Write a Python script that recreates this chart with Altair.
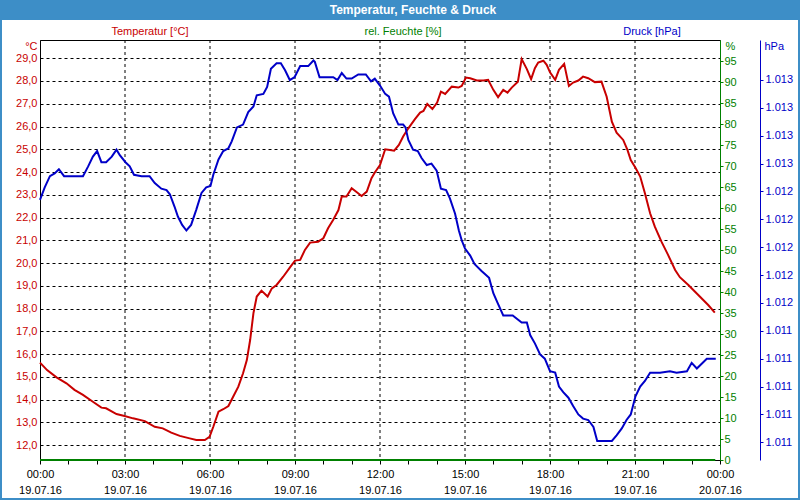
import altair as alt
import pandas as pd

temp_time = ["00:00","00:15","00:35","00:56","01:13","01:31","01:52","02:10","02:20","02:42",
             "02:59","03:17","03:42","04:03","04:20","04:38","04:56","05:17","05:31","05:49",
             "05:59","06:07","06:18","06:28","06:39","06:49","07:00","07:10","07:18","07:25",
             "07:32","07:39","07:49","08:02","08:11","08:21","08:35","08:49","09:00","09:11",
             "09:21","09:32","09:49","10:00","10:10","10:21","10:32","10:39","10:49","11:00",
             "11:11","11:21","11:32","11:42","11:49","12:00","12:11","12:21","12:30","12:40",
             "12:49","13:00","13:14","13:25","13:32","13:40","13:51","14:01","14:09","14:18",
             "14:32","14:46","14:53","15:02","15:11","15:25","15:39","15:49","16:00","16:10",
             "16:21","16:30","16:39","16:52","17:00","17:11","17:20","17:28","17:35","17:46",
             "17:53","18:00","18:11","18:19","18:30","18:40","18:49","19:00","19:10","19:21",
             "19:35","19:49","20:00","20:11","20:21","20:35","20:44","20:51","21:01","21:11",
             "21:21","21:32","21:42","21:56","22:10","22:25","22:35","22:53","23:14","23:35","23:49"]
temp_vals = [15.63,15.30,14.98,14.72,14.43,14.21,13.91,13.65,13.62,13.37,
             13.28,13.18,13.06,12.81,12.74,12.55,12.41,12.30,12.23,12.23,
             12.37,12.81,13.47,13.58,13.72,14.13,14.57,15.16,15.74,16.62,
             17.80,18.53,18.79,18.53,18.89,19.04,19.40,19.80,20.11,20.14,
             20.58,20.90,20.94,21.09,21.53,21.90,22.33,22.92,22.92,23.29,
             23.11,22.95,23.14,23.73,23.98,24.31,25.00,24.97,24.94,25.19,
             25.56,25.92,26.32,26.61,26.68,26.99,26.77,27.05,27.53,27.43,
             27.75,27.71,27.78,28.15,28.12,28.02,28.02,28.05,27.61,27.29,
             27.61,27.49,27.71,27.97,28.96,28.52,28.08,28.56,28.81,28.89,
             28.71,28.38,28.05,28.49,28.75,27.78,27.93,28.02,28.19,28.12,
             27.95,27.97,27.31,26.21,25.73,25.41,24.97,24.53,24.19,23.80,
             23.07,22.19,21.60,20.94,20.36,19.70,19.38,19.04,18.60,18.16,17.82]

pres_time = ["00:00","00:10","00:21","00:31","00:40","00:51","01:10","01:31","01:42","01:52",
             "02:01","02:10","02:20","02:32","02:42","02:49","03:01","03:10","03:19","03:35",
             "03:52","04:03","04:17","04:28","04:35","04:45","04:52","05:01","05:10","05:20",
             "05:31","05:42","05:52","06:01","06:07","06:18","06:28","06:39","06:46","06:57",
             "07:10","07:21","07:32","07:39","07:53","08:01","08:09","08:21","08:30","08:39",
             "08:49","08:59","09:11","09:28","09:39","09:42","09:52","10:04","10:21","10:30",
             "10:39","10:49","11:00","11:14","11:30","11:41","11:49","12:00","12:11","12:19",
             "12:28","12:39","12:49","12:54","13:00","13:10","13:20","13:28","13:39","13:49",
             "14:00","14:09","14:20","14:28","14:39","14:47","14:53","15:00","15:11","15:20",
             "15:35","15:51","16:00","16:09","16:21","16:41","17:00","17:11","17:18","17:28",
             "17:39","17:49","18:00","18:11","18:19","18:28","18:39","18:49","19:00","19:10",
             "19:21","19:32","19:40","20:11","20:21","20:32","20:42","20:51","21:01","21:11",
             "21:21","21:32","21:53","22:14","22:28","22:50","23:00","23:11","23:32","23:51"]
pres_vals = [1012.34,1012.43,1012.51,1012.53,1012.56,1012.51,1012.51,1012.51,1012.58,1012.65,
             1012.69,1012.61,1012.61,1012.65,1012.70,1012.66,1012.61,1012.58,1012.52,1012.51,
             1012.51,1012.46,1012.42,1012.41,1012.38,1012.29,1012.22,1012.16,1012.12,1012.16,
             1012.27,1012.39,1012.43,1012.44,1012.52,1012.63,1012.69,1012.71,1012.76,1012.86,
             1012.88,1012.97,1013.01,1013.09,1013.10,1013.15,1013.28,1013.32,1013.32,1013.27,
             1013.20,1013.22,1013.30,1013.30,1013.34,1013.33,1013.22,1013.22,1013.22,1013.20,
             1013.25,1013.21,1013.21,1013.24,1013.24,1013.19,1013.21,1013.16,1013.10,1013.08,
             1012.96,1012.88,1012.88,1012.86,1012.77,1012.70,1012.69,1012.64,1012.59,1012.60,
             1012.55,1012.42,1012.41,1012.35,1012.24,1012.12,1012.05,1011.99,1011.94,1011.88,
             1011.83,1011.78,1011.67,1011.60,1011.51,1011.51,1011.46,1011.46,1011.37,1011.31,
             1011.23,1011.20,1011.11,1011.10,1011.00,1010.96,1010.92,1010.86,1010.80,1010.77,
             1010.76,1010.71,1010.61,1010.61,1010.65,1010.70,1010.76,1010.80,1010.93,1011.00,
             1011.04,1011.10,1011.10,1011.11,1011.10,1011.11,1011.17,1011.13,1011.20,1011.20]

hum_time = ["00:00", "23:50"]
hum_vals = [0, 0]

grid_time = ["03:00", "06:00", "09:00", "12:00", "15:00", "18:00", "21:00"]
hour_ticks = [0, 1, 2, 3, 4, 5, 6, 7, 8, 9, 10, 11, 12, 13, 14, 15, 16, 17, 18, 19, 20, 21, 22, 23, 24]
dates = ["19.07.16", "20.07.16"]

temp_ticks = [12, 13, 14, 15, 16, 17, 18, 19, 20, 21, 22, 23, 24, 25, 26, 27, 28, 29]
hum_ticks = [0, 5, 10, 15, 20, 25, 30, 35, 40, 45, 50, 55, 60, 65, 70, 75, 80, 85, 90, 95]
pres_ticks = [1010.6, 1010.8, 1011.0, 1011.2, 1011.4, 1011.6, 1011.8, 1012.0,
              1012.2, 1012.4, 1012.6, 1012.8, 1013.0, 1013.2]

title_text = "Temperatur, Feuchte & Druck"
header_texts = ["Temperatur [°C]", "rel. Feuchte [%]", "Druck [hPa]"]

RED = "#c80000"
GREEN = "#008000"
BLUE = "#0000c8"
BAR = "#3d8ec7"
FONT = "Liberation Sans"


def to_hours(hhmm):
    h, m = hhmm.split(":")
    return int(h) + int(m) / 60.0


def frame(times, vals):
    return pd.DataFrame({"h": [to_hours(t) for t in times], "v": vals})


x_label_expr = (
    "datum.value % 3 == 0 ? ["
    "(datum.value % 24 < 10 ? '0' : '') + (datum.value % 24) + ':00', "
    "datum.value < 24 ? '" + dates[0] + "' : '" + dates[1] + "'] : ''"
)

x_main = alt.X("h:Q", scale=alt.Scale(domain=[0, 24], nice=False, zero=False), axis=alt.Axis(
    orient="bottom", values=hour_ticks,
    grid=False, ticks=True, tickSize=4, tickColor="black",
    domain=True, domainColor="black", domainWidth=1,
    labelExpr=x_label_expr,
    labelFont=FONT, labelFontSize=11, labelColor="black", labelPadding=4,
    labelFlush=False, labelOverlap=False, title=None))

y_temp = alt.Y("v:Q", scale=alt.Scale(domain=[11.35, 29.8], nice=False, zero=False),
               axis=alt.Axis(orient="left", values=temp_ticks, grid=True, gridDash=[3, 3],
                             gridColor="black", gridOpacity=1, gridWidth=1, ticks=False,
                             domainColor="black", labelColor=RED,
                             labelExpr="replace(format(datum.value, '.1f'), '.', ',')",
                             labelPadding=3, labelFont=FONT, labelFontSize=11,
                             title="°C", titleAngle=0, titleColor=RED, titleFontWeight="normal",
                             titleFont=FONT, titleFontSize=11, titleX=-3, titleY=6,
                             titleAlign="right", titleBaseline="middle"))

y_hum = alt.Y("v:Q", scale=alt.Scale(domain=[0, 100], nice=False),
              axis=alt.Axis(orient="right", values=hum_ticks, grid=False,
                            domainColor=GREEN, tickColor=GREEN, tickSize=3,
                            labelColor=GREEN, labelPadding=1, labelFont=FONT, labelFontSize=11,
                            title="%", titleAngle=0, titleColor=GREEN, titleFontWeight="normal",
                            titleFont=FONT, titleFontSize=11, titleX=5, titleY=6,
                            titleAlign="left", titleBaseline="middle"))

y_pres = alt.Y("v:Q", scale=alt.Scale(domain=[1010.473, 1013.487], nice=False, zero=False),
               axis=alt.Axis(orient="right", offset=40, values=pres_ticks, grid=False,
                             domainColor=BLUE, tickColor=BLUE, tickSize=3,
                             labelColor=BLUE, labelPadding=2, labelFont=FONT, labelFontSize=11,
                             labelExpr="replace(format(round(datum.value), ','), ',', '.')",
                             title="hPa", titleAngle=0, titleColor=BLUE, titleFontWeight="normal",
                             titleFont=FONT, titleFontSize=11, titleX=4, titleY=6,
                             titleAlign="left", titleBaseline="middle"))

vgrid = alt.Chart(frame(grid_time, [0] * len(grid_time))).mark_rule(
    color="black", strokeDash=[3, 3], strokeWidth=1).encode(x=x_main)
hum_line = alt.Chart(frame(hum_time, hum_vals)).mark_line(
    color=GREEN, strokeWidth=2).encode(x=x_main, y=y_hum)
pres_line = alt.Chart(frame(pres_time, pres_vals)).mark_line(
    color=BLUE, strokeWidth=2).encode(x=x_main, y=y_pres)
temp_line = alt.Chart(frame(temp_time, temp_vals)).mark_line(
    color=RED, strokeWidth=2).encode(x=x_main, y=y_temp)

one = pd.DataFrame({"k": [0]})
bar = alt.Chart(one).mark_rect(color=BAR).encode(
    x=alt.value(-40), x2=alt.value(760), y=alt.value(-40), y2=alt.value(-20))
title = alt.Chart(one).mark_text(color="white", font=FONT, fontSize=12, fontWeight="bold",
                                 align="center", baseline="middle").encode(
    x=alt.value(373), y=alt.value(-30), text=alt.value(title_text))
h1 = alt.Chart(one).mark_text(color=RED, font=FONT, fontSize=11, align="center",
                              baseline="middle").encode(
    x=alt.value(110), y=alt.value(-8), text=alt.value(header_texts[0]))
h2 = alt.Chart(one).mark_text(color=GREEN, font=FONT, fontSize=11, align="center",
                              baseline="middle").encode(
    x=alt.value(363), y=alt.value(-8), text=alt.value(header_texts[1]))
h3 = alt.Chart(one).mark_text(color=BLUE, font=FONT, fontSize=11, align="center",
                              baseline="middle").encode(
    x=alt.value(612), y=alt.value(-8), text=alt.value(header_texts[2]))
border = alt.Chart(one).mark_rect(fillOpacity=0, stroke=BAR, strokeWidth=2).encode(
    x=alt.value(-39), x2=alt.value(759), y=alt.value(-39), y2=alt.value(459))

chart = alt.layer(
    vgrid, temp_line, hum_line, pres_line, bar, title, h1, h2, h3, border
).resolve_scale(y="independent").properties(
    width=680, height=420,
    autosize=alt.AutoSizeParams(type="none"),
    padding={"left": 40, "top": 40, "right": 80, "bottom": 40},
    background="white",
).configure_view(stroke="black", strokeWidth=1).configure_axis(labelLineHeight=16)

chart.save("out.html", embed_options={"renderer": "svg", "actions": False})
